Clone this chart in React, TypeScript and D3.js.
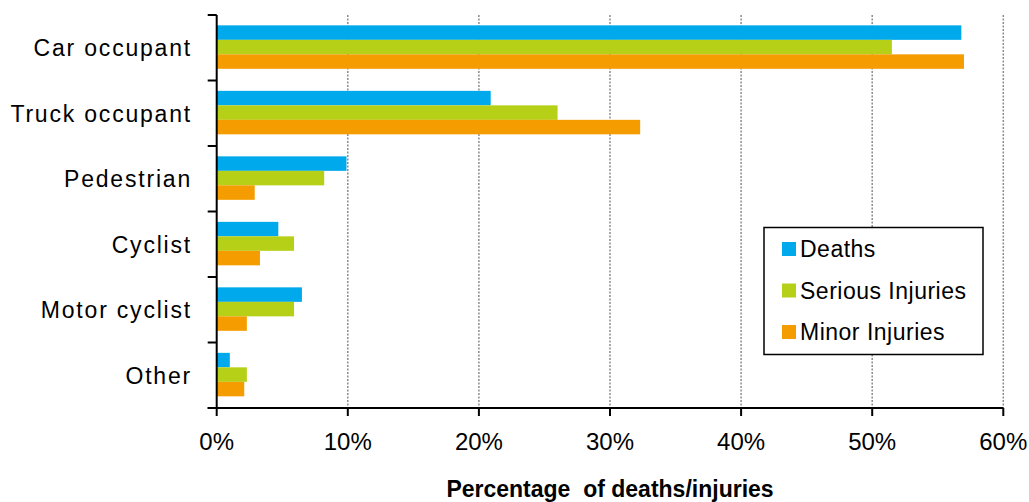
import React, { useEffect, useRef } from "react";
import * as d3 from "d3";

// Road user categories (top to bottom)
const categories = [
  "Car occupant",
  "Truck occupant",
  "Pedestrian",
  "Cyclist",
  "Motor cyclist",
  "Other",
];

// Share of each outcome by road user type, in percent
const deaths = [56.8, 20.9, 9.9, 4.7, 6.5, 1.0];
const seriousInjuries = [51.5, 26.0, 8.2, 5.9, 5.9, 2.3];
const minorInjuries = [57.0, 32.3, 2.9, 3.3, 2.3, 2.1];

const seriesNames = ["Deaths", "Serious Injuries", "Minor Injuries"];
const seriesColors = ["#00A8EC", "#B5D016", "#F59D00"];
const xTicks = [0, 10, 20, 30, 40, 50, 60];
const xTitle = "Percentage  of deaths/injuries";

const WIDTH = 1029;
const HEIGHT = 502;
const FONT = "'Liberation Sans', Arial, Helvetica, sans-serif";

export default function App() {
  const ref = useRef<SVGSVGElement | null>(null);

  useEffect(() => {
    const svg = d3.select(ref.current);
    svg.selectAll("*").remove();

    const left = 216.7;
    const right = 1003.3;
    const top = 15;
    const bottom = 408;

    const x = d3.scaleLinear().domain([0, 60]).range([left, right]);
    const y = d3.scaleBand<string>().domain(categories).range([top, bottom]);
    const inner = d3
      .scaleBand<string>()
      .domain(seriesNames)
      .range([0, y.bandwidth()])
      .paddingInner(0)
      .paddingOuter(0.76)
      .align(0.47);

    const values = [deaths, seriousInjuries, minorInjuries];

    // dotted vertical gridlines
    svg
      .append("g")
      .selectAll("line")
      .data(xTicks.filter((t) => t > 0))
      .join("line")
      .attr("x1", (d) => x(d))
      .attr("x2", (d) => x(d))
      .attr("y1", top)
      .attr("y2", bottom)
      .attr("stroke", "#8c8c8c")
      .attr("stroke-width", 1.5)
      .attr("stroke-dasharray", "2,1.5");

    // bars
    const groups = svg
      .append("g")
      .selectAll("g")
      .data(categories)
      .join("g")
      .attr("transform", (d) => `translate(0,${y(d)})`);

    groups
      .selectAll("rect")
      .data((_, i) => seriesNames.map((s, k) => ({ s, k, v: values[k][i] })))
      .join("rect")
      .attr("x", x(0))
      .attr("y", (d) => inner(d.s)!)
      .attr("width", (d) => x(d.v) - x(0))
      .attr("height", inner.bandwidth())
      .attr("fill", (d) => seriesColors[d.k]);

    // y axis with ticks at category boundaries
    const yAxis = svg.append("g").attr("stroke", "#000").attr("stroke-width", 2);
    yAxis
      .append("line")
      .attr("x1", x(0))
      .attr("x2", x(0))
      .attr("y1", top)
      .attr("y2", bottom);
    const boundaries = categories.map((c) => y(c)!).concat([bottom]);
    yAxis
      .selectAll("line.tick")
      .data(boundaries)
      .join("line")
      .attr("class", "tick")
      .attr("x1", x(0) - 9)
      .attr("x2", x(0))
      .attr("y1", (d) => d)
      .attr("y2", (d) => d);

    // x axis
    const xAxis = svg.append("g").attr("stroke", "#000").attr("stroke-width", 2);
    xAxis
      .append("line")
      .attr("x1", x(0) - 9)
      .attr("x2", x(60))
      .attr("y1", bottom)
      .attr("y2", bottom);
    xAxis
      .selectAll("line.tick")
      .data(xTicks)
      .join("line")
      .attr("class", "tick")
      .attr("x1", (d) => x(d))
      .attr("x2", (d) => x(d))
      .attr("y1", bottom)
      .attr("y2", bottom + 8);

    svg
      .append("g")
      .selectAll("text")
      .data(xTicks)
      .join("text")
      .attr("x", (d) => x(d))
      .attr("y", 450)
      .attr("text-anchor", "middle")
      .attr("font-family", FONT)
      .attr("font-size", 24)
      .attr("fill", "#000")
      .text((d) => `${d}%`);

    // category labels
    svg
      .append("g")
      .selectAll("text")
      .data(categories)
      .join("text")
      .attr("x", 192)
      .attr("y", (d) => y(d)! + y.bandwidth() / 2)
      .attr("dy", "0.36em")
      .attr("text-anchor", "end")
      .attr("font-family", FONT)
      .attr("font-size", 23)
      .attr("letter-spacing", 1.8)
      .attr("fill", "#000")
      .text((d) => d);

    // x axis title
    svg
      .append("text")
      .attr("x", (left + right) / 2)
      .attr("y", 497)
      .attr("text-anchor", "middle")
      .attr("font-family", FONT)
      .attr("font-weight", "bold")
      .attr("font-size", 23)
      .style("white-space", "pre")
      .attr("fill", "#000")
      .text(xTitle);

    // legend
    const legend = svg.append("g");
    legend
      .append("rect")
      .attr("x", 764)
      .attr("y", 227.5)
      .attr("width", 219)
      .attr("height", 127)
      .attr("fill", "#fff")
      .attr("stroke", "#000")
      .attr("stroke-width", 1.5);
    const rowY = d3.scalePoint<string>().domain(seriesNames).range([249, 332]);
    const items = legend
      .selectAll("g")
      .data(seriesNames)
      .join("g")
      .attr("transform", (d) => `translate(782,${rowY(d)})`);
    items
      .append("rect")
      .attr("x", 0)
      .attr("y", -7)
      .attr("width", 14)
      .attr("height", 14)
      .attr("fill", (_, i) => seriesColors[i]);
    items
      .append("text")
      .attr("x", 18)
      .attr("dy", "0.36em")
      .attr("font-family", FONT)
      .attr("font-size", 23)
      .attr("letter-spacing", 0.5)
      .attr("fill", "#000")
      .text((d) => d);
  }, []);

  return (
    <svg
      ref={ref}
      width={WIDTH}
      height={HEIGHT}
      style={{ position: "absolute", left: 0, top: 0, background: "#fff" }}
    />
  );
}
